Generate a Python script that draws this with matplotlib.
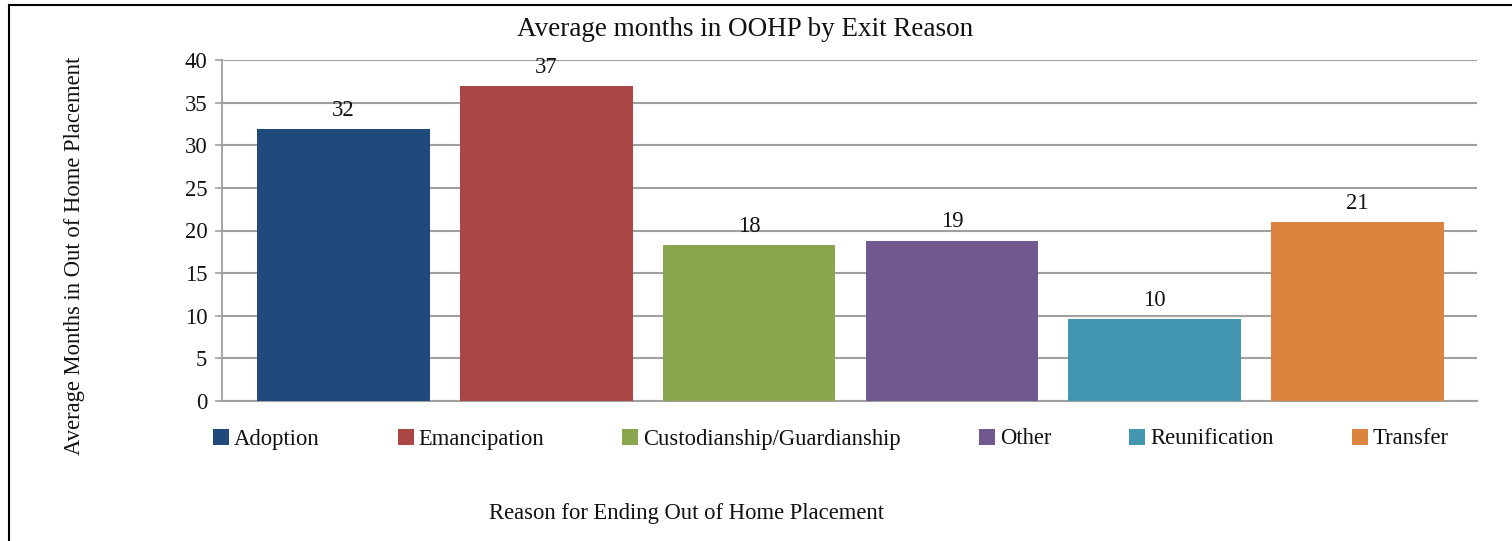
import matplotlib
matplotlib.use("Agg")
import matplotlib.pyplot as plt
from matplotlib.lines import Line2D

categories = ["Adoption", "Emancipation", "Custodianship/Guardianship", "Other", "Reunification", "Transfer"]
values = [31.9, 36.9, 18.3, 18.8, 9.6, 21.0]
labels = ["32", "37", "18", "19", "10", "21"]
colors = ["#20497C", "#AA4744", "#8AA64E", "#71598E", "#4397B0", "#DC833F"]
yticks = [0, 5, 10, 15, 20, 25, 30, 35, 40]

plt.rcParams['font.family'] = ['Liberation Serif', 'DejaVu Serif']

W, H = 1512, 541
fig = plt.figure(figsize=(W/100, H/100), dpi=100)
ax = fig.add_axes([222/W, 1-401/H, (1477-222)/W, (401-60)/H])

x = list(range(len(categories)))
bars = ax.bar(x, values, width=0.85, color=colors, label=categories, zorder=3)
ax.bar_label(bars, labels=labels, padding=6, fontsize=16.3, color='#111111')

ax.set_xlim(-0.6, 5.59)
ax.set_ylim(0, 40)
ax.set_yticks(yticks)
ax.set_xticks([])
ax.yaxis.grid(True, color='#A0A0A0', linewidth=1.5, zorder=0)
ax.set_axisbelow(True)
for s in ['top', 'right']:
    ax.spines[s].set_visible(False)
ax.spines['left'].set_color('#A0A0A0')
ax.spines['left'].set_linewidth(1.3)
ax.spines['bottom'].set_color('#A0A0A0')
ax.spines['bottom'].set_linewidth(1.5)
ax.tick_params(axis='y', direction='out', length=5, width=1.2, color='#A0A0A0',
               labelsize=16.3, pad=5.5, labelcolor='#111111')

fig.text(745/W, 1-29/H, "Average months in OOHP by Exit Reason", ha='center', va='center',
         fontsize=19.5, color='#111111')
fig.text(75/W, 1-256/H, "Average Months in Out of Home Placement", ha='center', va='center',
         rotation=90, fontsize=16.3, color='#111111')
fig.text(687/W, 1-513/H, "Reason for Ending Out of Home Placement", ha='center', va='center',
         fontsize=16.3, color='#111111')

fig.legend(handles=bars.patches, labels=categories, loc='center left',
           bbox_to_anchor=(213/W, 1-439/H), ncol=6, frameon=False, fontsize=16.3,
           handlelength=0.7, handleheight=0.7, handletextpad=0.22, columnspacing=3.45,
           borderpad=0, borderaxespad=0, labelcolor='#111111')

# outer frame (top and left edges visible)
fig.add_artist(Line2D([9/W, 9/W], [0, 1-5/H], transform=fig.transFigure, color='black', linewidth=1.5))
fig.add_artist(Line2D([9/W, 1], [1-5/H, 1-5/H], transform=fig.transFigure, color='black', linewidth=1.5))

fig.savefig("out.png", dpi=100)
